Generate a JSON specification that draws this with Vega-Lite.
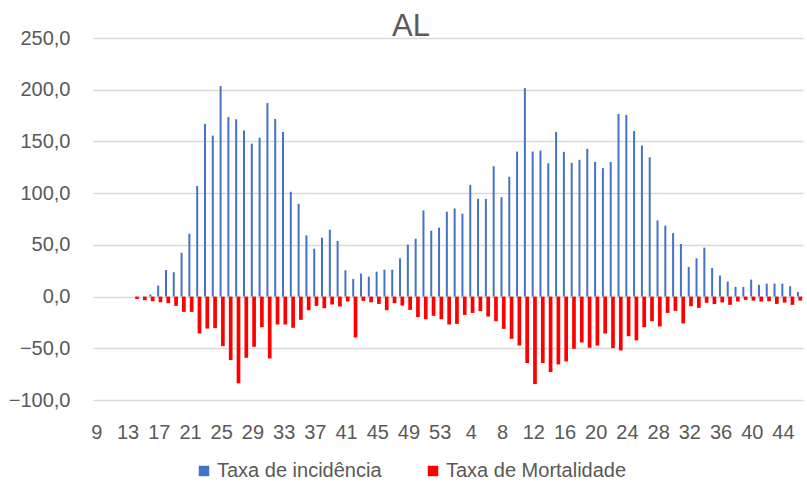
{
  "$schema": "https://vega.github.io/schema/vega-lite/v6.json",
  "width": 710,
  "height": 362,
  "autosize": {"type": "none"},
  "padding": {"left": 93, "top": 38, "right": 4, "bottom": 91},
  "background": "white",
  "title": {
    "text": "AL",
    "fontSize": 31,
    "font": "Liberation Sans",
    "fontWeight": "normal",
    "color": "#595959",
    "anchor": "middle",
    "frame": "group",
    "baseline": "alphabetic",
    "offset": 0,
    "dy": 39,
    "dx": -37
  },
  "config": {
    "view": {"stroke": null},
    "font": "Liberation Sans"
  },
  "data": {
    "values": [
      {"i": 5, "w": 14, "inc": null, "mort": -2.3},
      {"i": 6, "w": 15, "inc": null, "mort": -3.5},
      {"i": 7, "w": 16, "inc": 2, "mort": -4.5},
      {"i": 8, "w": 17, "inc": 10.6, "mort": -5.5},
      {"i": 9, "w": 18, "inc": 25.7, "mort": -6.4},
      {"i": 10, "w": 19, "inc": 23.5, "mort": -9},
      {"i": 11, "w": 20, "inc": 42.4, "mort": -14.8},
      {"i": 12, "w": 21, "inc": 60.8, "mort": -14.8},
      {"i": 13, "w": 22, "inc": 107, "mort": -35.7},
      {"i": 14, "w": 23, "inc": 167, "mort": -30.9},
      {"i": 15, "w": 24, "inc": 155.6, "mort": -30.5},
      {"i": 16, "w": 25, "inc": 203.5, "mort": -47.9},
      {"i": 17, "w": 26, "inc": 173.6, "mort": -61.4},
      {"i": 18, "w": 27, "inc": 171.4, "mort": -83.9},
      {"i": 19, "w": 28, "inc": 160.5, "mort": -59.2},
      {"i": 20, "w": 29, "inc": 147.9, "mort": -48.6},
      {"i": 21, "w": 30, "inc": 153.7, "mort": -29.6},
      {"i": 22, "w": 31, "inc": 187.1, "mort": -59.8},
      {"i": 23, "w": 32, "inc": 171.7, "mort": -27},
      {"i": 24, "w": 33, "inc": 159.2, "mort": -27},
      {"i": 25, "w": 34, "inc": 101.3, "mort": -30.2},
      {"i": 26, "w": 35, "inc": 89.7, "mort": -22.5},
      {"i": 27, "w": 36, "inc": 59.2, "mort": -13.2},
      {"i": 28, "w": 37, "inc": 46.3, "mort": -9},
      {"i": 29, "w": 38, "inc": 56.9, "mort": -11.3},
      {"i": 30, "w": 39, "inc": 64.6, "mort": -7.7},
      {"i": 31, "w": 40, "inc": 53.7, "mort": -9.6},
      {"i": 32, "w": 41, "inc": 25.4, "mort": -4.8},
      {"i": 33, "w": 42, "inc": 17, "mort": -39.5},
      {"i": 34, "w": 43, "inc": 22.2, "mort": -4.2},
      {"i": 35, "w": 44, "inc": 19.3, "mort": -5.5},
      {"i": 36, "w": 45, "inc": 24.1, "mort": -7.1},
      {"i": 37, "w": 46, "inc": 26, "mort": -13.2},
      {"i": 38, "w": 47, "inc": 26, "mort": -6.4},
      {"i": 39, "w": 48, "inc": 37, "mort": -8.7},
      {"i": 40, "w": 49, "inc": 50.2, "mort": -12.9},
      {"i": 41, "w": 50, "inc": 56, "mort": -19.9},
      {"i": 42, "w": 51, "inc": 83.3, "mort": -21.9},
      {"i": 43, "w": 52, "inc": 63.7, "mort": -18.6},
      {"i": 44, "w": 53, "inc": 66.6, "mort": -21.9},
      {"i": 45, "w": 1, "inc": 82, "mort": -27},
      {"i": 46, "w": 2, "inc": 85.2, "mort": -26.4},
      {"i": 47, "w": 3, "inc": 80.1, "mort": -17.7},
      {"i": 48, "w": 4, "inc": 108, "mort": -15.8},
      {"i": 49, "w": 5, "inc": 94.5, "mort": -14.1},
      {"i": 50, "w": 6, "inc": 94.5, "mort": -19.3},
      {"i": 51, "w": 7, "inc": 126, "mort": -23.8},
      {"i": 52, "w": 8, "inc": 96.1, "mort": -31.2},
      {"i": 53, "w": 9, "inc": 115.8, "mort": -40.8},
      {"i": 54, "w": 10, "inc": 140.2, "mort": -47.3},
      {"i": 55, "w": 11, "inc": 201.6, "mort": -64.3},
      {"i": 56, "w": 12, "inc": 140.2, "mort": -84.6},
      {"i": 57, "w": 13, "inc": 141.2, "mort": -64.3},
      {"i": 58, "w": 14, "inc": 128.9, "mort": -73},
      {"i": 59, "w": 15, "inc": 159.2, "mort": -65.6},
      {"i": 60, "w": 16, "inc": 139.9, "mort": -62.7},
      {"i": 61, "w": 17, "inc": 129.3, "mort": -50.5},
      {"i": 62, "w": 18, "inc": 132.2, "mort": -44.4},
      {"i": 63, "w": 19, "inc": 142.8, "mort": -49.5},
      {"i": 64, "w": 20, "inc": 130.2, "mort": -47.3},
      {"i": 65, "w": 21, "inc": 124.2, "mort": -35.8},
      {"i": 66, "w": 22, "inc": 130.2, "mort": -49.8},
      {"i": 67, "w": 23, "inc": 176.5, "mort": -52.1},
      {"i": 68, "w": 24, "inc": 175.6, "mort": -38.3},
      {"i": 69, "w": 25, "inc": 160.1, "mort": -42.4},
      {"i": 70, "w": 26, "inc": 146, "mort": -29.6},
      {"i": 71, "w": 27, "inc": 134.7, "mort": -23.8},
      {"i": 72, "w": 28, "inc": 73.6, "mort": -28.9},
      {"i": 73, "w": 29, "inc": 68.5, "mort": -15.8},
      {"i": 74, "w": 30, "inc": 61.4, "mort": -13.8},
      {"i": 75, "w": 31, "inc": 50.8, "mort": -26},
      {"i": 76, "w": 32, "inc": 28.6, "mort": -9.3},
      {"i": 77, "w": 33, "inc": 37, "mort": -10.9},
      {"i": 78, "w": 34, "inc": 47.3, "mort": -6},
      {"i": 79, "w": 35, "inc": 27.7, "mort": -7.3},
      {"i": 80, "w": 36, "inc": 20.3, "mort": -5.7},
      {"i": 81, "w": 37, "inc": 14.5, "mort": -8},
      {"i": 82, "w": 38, "inc": 9.3, "mort": -4.8},
      {"i": 83, "w": 39, "inc": 9.3, "mort": -3.2},
      {"i": 84, "w": 40, "inc": 16.4, "mort": -3.9},
      {"i": 85, "w": 41, "inc": 11.3, "mort": -4.8},
      {"i": 86, "w": 42, "inc": 12.5, "mort": -4.5},
      {"i": 87, "w": 43, "inc": 12.5, "mort": -7.1},
      {"i": 88, "w": 44, "inc": 12.5, "mort": -5.8},
      {"i": 89, "w": 45, "inc": 10, "mort": -8},
      {"i": 90, "w": 46, "inc": 4.5, "mort": -3.9}
    ]
  },
  "encoding": {
    "x": {
      "field": "i",
      "type": "ordinal",
      "scale": {
        "domain": [0,1,2,3,4,5,6,7,8,9,10,11,12,13,14,15,16,17,18,19,20,21,22,23,24,25,26,27,28,29,30,31,32,33,34,35,36,37,38,39,40,41,42,43,44,45,46,47,48,49,50,51,52,53,54,55,56,57,58,59,60,61,62,63,64,65,66,67,68,69,70,71,72,73,74,75,76,77,78,79,80,81,82,83,84,85,86,87,88,89,90],
        "paddingInner": 0,
        "paddingOuter": 0
      },
      "axis": {
        "title": null,
        "values": [0,4,8,12,16,20,24,28,32,36,40,44,48,52,56,60,64,68,72,76,80,84,88],
        "labelExpr": "datum.value < 45 ? '' + (datum.value + 9) : '' + (datum.value - 44)",
        "labelAngle": 0,
        "domain": false,
        "ticks": false,
        "grid": false,
        "labelPadding": 22,
        "labelFontSize": 20,
        "labelColor": "#595959",
        "labelFont": "Liberation Sans",
        "labelOverlap": false,
        "labelFlush": false
      }
    }
  },
  "layer": [
    {
      "mark": {"type": "bar", "width": 2, "color": "#4472C4"},
      "encoding": {
        "y": {
          "field": "inc",
          "type": "quantitative",
          "stack": null,
          "scale": {"domain": [-100, 250], "nice": false, "zero": false},
          "axis": {
            "title": null,
            "values": [-100, -50, 0, 50, 100, 150, 200, 250],
            "labelExpr": "replace(format(datum.value, '.1f'), '.', ',')",
            "domain": false,
            "ticks": false,
            "grid": true,
            "gridColor": "#D9D9D9",
            "gridWidth": 1.5,
            "labelPadding": 23,
            "labelFontSize": 20,
            "labelColor": "#595959",
            "labelFont": "Liberation Sans"
          }
        },
        "xOffset": {
          "datum": "Taxa de incidência",
          "type": "nominal",
          "scale": {"domain": ["Taxa de incidência", "Taxa de Mortalidade"], "paddingInner": 0, "paddingOuter": 0.7}
        },
        "color": {
          "datum": "Taxa de incidência",
          "type": "nominal",
          "scale": {"domain": ["Taxa de incidência", "Taxa de Mortalidade"], "range": ["#4472C4", "#FF0000"]},
          "legend": {
            "title": null,
            "orient": "none",
            "direction": "horizontal",
            "legendX": 101,
            "legendY": 423,
            "symbolType": "square",
            "symbolSize": 110,
            "symbolStrokeWidth": 0,
            "labelFontSize": 20,
            "labelColor": "#595959",
            "labelFont": "Liberation Sans",
            "labelLimit": 0,
            "labelOffset": 3,
            "columnPadding": 41
          }
        }
      }
    },
    {
      "mark": {"type": "bar", "width": 3.7, "color": "#FF0000"},
      "encoding": {
        "y": {
          "field": "mort",
          "type": "quantitative",
          "stack": null,
          "scale": {"domain": [-100, 250], "nice": false, "zero": false},
          "axis": {
            "title": null,
            "values": [-100, -50, 0, 50, 100, 150, 200, 250],
            "labelExpr": "replace(format(datum.value, '.1f'), '.', ',')",
            "domain": false,
            "ticks": false,
            "grid": true,
            "gridColor": "#D9D9D9",
            "gridWidth": 1.5,
            "labelPadding": 23,
            "labelFontSize": 20,
            "labelColor": "#595959",
            "labelFont": "Liberation Sans"
          }
        },
        "xOffset": {
          "datum": "Taxa de Mortalidade",
          "type": "nominal",
          "scale": {"domain": ["Taxa de incidência", "Taxa de Mortalidade"], "paddingInner": 0, "paddingOuter": 0.7}
        },
        "color": {
          "datum": "Taxa de Mortalidade",
          "type": "nominal",
          "scale": {"domain": ["Taxa de incidência", "Taxa de Mortalidade"], "range": ["#4472C4", "#FF0000"]}
        }
      }
    }
  ]
}
